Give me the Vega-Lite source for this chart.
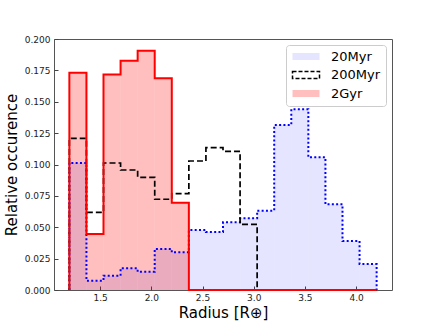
{
  "$schema": "https://vega.github.io/schema/vega-lite/v6.json",
  "width": 338,
  "height": 251,
  "autosize": "none",
  "padding": {"left": 54, "top": 39, "right": 44, "bottom": 37},
  "background": "white",
  "config": {
    "font": "DejaVu Sans",
    "view": {"stroke": "#555555", "strokeWidth": 1},
    "axis": {
      "grid": false,
      "domain": false,
      "labelFont": "DejaVu Sans",
      "labelFontSize": 9,
      "labelColor": "#222222",
      "labelOverlap": false,
      "tickColor": "#444444",
      "tickSize": -4,
      "tickCount": 30,
      "titleFont": "DejaVu Sans",
      "titleFontSize": 15,
      "titleFontWeight": "normal",
      "titleColor": "black"
    }
  },
  "data": {
    "values": [
      {"s": "20Myr", "k": -1, "x": 1.2, "x2": 1.2, "y": 0},
      {"s": "20Myr", "k": 0, "x": 1.2, "x2": 1.3667, "y": 0.1012},
      {"s": "20Myr", "k": 1, "x": 1.3667, "x2": 1.5333, "y": 0.0074},
      {"s": "20Myr", "k": 2, "x": 1.5333, "x2": 1.7, "y": 0.0114},
      {"s": "20Myr", "k": 3, "x": 1.7, "x2": 1.8667, "y": 0.0173},
      {"s": "20Myr", "k": 4, "x": 1.8667, "x2": 2.0333, "y": 0.0146},
      {"s": "20Myr", "k": 5, "x": 2.0333, "x2": 2.2, "y": 0.0327},
      {"s": "20Myr", "k": 6, "x": 2.2, "x2": 2.3667, "y": 0.0300},
      {"s": "20Myr", "k": 7, "x": 2.3667, "x2": 2.5333, "y": 0.0478},
      {"s": "20Myr", "k": 8, "x": 2.5333, "x2": 2.7, "y": 0.0462},
      {"s": "20Myr", "k": 9, "x": 2.7, "x2": 2.8667, "y": 0.0539},
      {"s": "20Myr", "k": 10, "x": 2.8667, "x2": 3.0333, "y": 0.0571},
      {"s": "20Myr", "k": 11, "x": 3.0333, "x2": 3.2, "y": 0.0632},
      {"s": "20Myr", "k": 12, "x": 3.2, "x2": 3.3667, "y": 0.1315},
      {"s": "20Myr", "k": 13, "x": 3.3667, "x2": 3.5333, "y": 0.1440},
      {"s": "20Myr", "k": 14, "x": 3.5333, "x2": 3.7, "y": 0.1057},
      {"s": "20Myr", "k": 15, "x": 3.7, "x2": 3.8667, "y": 0.0683},
      {"s": "20Myr", "k": 16, "x": 3.8667, "x2": 4.0333, "y": 0.0390},
      {"s": "20Myr", "k": 17, "x": 4.0333, "x2": 4.2, "y": 0.0207},
      {"s": "20Myr", "k": 18, "x": 4.2, "x2": 4.2, "y": 0},
      {"s": "200Myr", "k": -1, "x": 1.2, "x2": 1.2, "y": 0},
      {"s": "200Myr", "k": 0, "x": 1.2, "x2": 1.3667, "y": 0.1208},
      {"s": "200Myr", "k": 1, "x": 1.3667, "x2": 1.5333, "y": 0.0619},
      {"s": "200Myr", "k": 2, "x": 1.5333, "x2": 1.7, "y": 0.1012},
      {"s": "200Myr", "k": 3, "x": 1.7, "x2": 1.8667, "y": 0.0956},
      {"s": "200Myr", "k": 4, "x": 1.8667, "x2": 2.0333, "y": 0.0898},
      {"s": "200Myr", "k": 5, "x": 2.0333, "x2": 2.2, "y": 0.0723},
      {"s": "200Myr", "k": 6, "x": 2.2, "x2": 2.3667, "y": 0.0768},
      {"s": "200Myr", "k": 7, "x": 2.3667, "x2": 2.5333, "y": 0.1028},
      {"s": "200Myr", "k": 8, "x": 2.5333, "x2": 2.7, "y": 0.1134},
      {"s": "200Myr", "k": 9, "x": 2.7, "x2": 2.8667, "y": 0.1105},
      {"s": "200Myr", "k": 10, "x": 2.8667, "x2": 3.0333, "y": 0.0523},
      {"s": "200Myr", "k": 11, "x": 3.0333, "x2": 3.2, "y": 0},
      {"s": "200Myr", "k": 12, "x": 3.2, "x2": 3.3667, "y": 0},
      {"s": "200Myr", "k": 13, "x": 3.3667, "x2": 3.5333, "y": 0},
      {"s": "200Myr", "k": 14, "x": 3.5333, "x2": 3.7, "y": 0},
      {"s": "200Myr", "k": 15, "x": 3.7, "x2": 3.8667, "y": 0},
      {"s": "200Myr", "k": 16, "x": 3.8667, "x2": 4.0333, "y": 0},
      {"s": "200Myr", "k": 17, "x": 4.0333, "x2": 4.2, "y": 0},
      {"s": "200Myr", "k": 18, "x": 4.2, "x2": 4.2, "y": 0},
      {"s": "2Gyr", "k": -1, "x": 1.2, "x2": 1.2, "y": 0},
      {"s": "2Gyr", "k": 0, "x": 1.2, "x2": 1.3667, "y": 0.1732},
      {"s": "2Gyr", "k": 1, "x": 1.3667, "x2": 1.5333, "y": 0.0446},
      {"s": "2Gyr", "k": 2, "x": 1.5333, "x2": 1.7, "y": 0.1718},
      {"s": "2Gyr", "k": 3, "x": 1.7, "x2": 1.8667, "y": 0.1827},
      {"s": "2Gyr", "k": 4, "x": 1.8667, "x2": 2.0333, "y": 0.1907},
      {"s": "2Gyr", "k": 5, "x": 2.0333, "x2": 2.2, "y": 0.1687},
      {"s": "2Gyr", "k": 6, "x": 2.2, "x2": 2.3667, "y": 0.0696},
      {"s": "2Gyr", "k": 7, "x": 2.3667, "x2": 2.5333, "y": 0},
      {"s": "2Gyr", "k": 8, "x": 2.5333, "x2": 2.7, "y": 0},
      {"s": "2Gyr", "k": 9, "x": 2.7, "x2": 2.8667, "y": 0},
      {"s": "2Gyr", "k": 10, "x": 2.8667, "x2": 3.0333, "y": 0},
      {"s": "2Gyr", "k": 11, "x": 3.0333, "x2": 3.2, "y": 0},
      {"s": "2Gyr", "k": 12, "x": 3.2, "x2": 3.3667, "y": 0},
      {"s": "2Gyr", "k": 13, "x": 3.3667, "x2": 3.5333, "y": 0},
      {"s": "2Gyr", "k": 14, "x": 3.5333, "x2": 3.7, "y": 0},
      {"s": "2Gyr", "k": 15, "x": 3.7, "x2": 3.8667, "y": 0},
      {"s": "2Gyr", "k": 16, "x": 3.8667, "x2": 4.0333, "y": 0},
      {"s": "2Gyr", "k": 17, "x": 4.0333, "x2": 4.2, "y": 0},
      {"s": "2Gyr", "k": 18, "x": 4.2, "x2": 4.2, "y": 0}
    ]
  },
  "layer": [
    {
      "transform": [{"filter": "datum.k >= 0 && datum.k <= 17"}],
      "mark": {"type": "rect", "strokeWidth": 0},
      "encoding": {
        "x": {
          "field": "x", "type": "quantitative",
          "scale": {"domain": [1.05, 4.35], "nice": false, "zero": false},
          "axis": {"title": "Radius [R⊕]", "values": [1.5, 2, 2.5, 3, 3.5, 4], "format": ".1f", "labelPadding": 7, "titlePadding": 3, "labelOverlap": false, "tickCount": 30}
        },
        "x2": {"field": "x2"},
        "y": {
          "field": "y", "type": "quantitative", "stack": null,
          "scale": {"domain": [0, 0.2], "nice": false},
          "axis": {"title": "Relative occurence", "values": [0, 0.025, 0.05, 0.075, 0.1, 0.125, 0.15, 0.175, 0.2], "format": ".3f", "labelPadding": 8, "titlePadding": 5, "labelOverlap": false, "tickCount": 30}
        },
        "y2": {"datum": 0},
        "color": {
          "field": "s", "type": "nominal",
          "scale": {"domain": ["20Myr", "200Myr", "2Gyr"], "range": ["rgba(0,0,255,0.1)", "rgba(0,0,0,0)", "rgba(255,0,0,0.25)"]},
          "legend": {
            "title": null,
            "orient": "top-right",
            "offset": 6,
            "fillColor": "rgba(255,255,255,0.85)",
            "strokeColor": "#cccccc",
            "cornerRadius": 3,
            "padding": 5,
            "labelFont": "DejaVu Sans",
            "labelFontSize": 13,
            "labelColor": "black",
            "symbolType": "M-1,-0.7H4.4V0.7H-1Z",
            "symbolSize": 100,
            "symbolStrokeWidth": 0,
            "labelOffset": 27,
            "rowPadding": 4.5,
            "encode": {
              "entries": {
                "update": {
                  "width": {"value": 88},
                  "height": {"value": 13},
                  "fill": {"value": "transparent"}
                }
              },
              "symbols": {
                "update": {
                  "stroke": {"signal": "datum.value === '200Myr' ? 'black' : 'transparent'"},
                  "strokeWidth": {"signal": "datum.value === '200Myr' ? 1.5 : 0"},
                  "strokeDash": {"signal": "datum.value === '200Myr' ? [4, 2] : []"}
                }
              }
            }
          }
        }
      }
    },
    {
      "transform": [{"filter": "datum.s === '20Myr'"}],
      "mark": {"type": "line", "interpolate": "step-after", "color": "#0000ff", "strokeWidth": 2, "strokeDash": [2, 2.3]},
      "encoding": {
        "x": {"field": "x", "type": "quantitative"},
        "y": {"field": "y", "type": "quantitative"},
        "order": {"field": "k", "type": "quantitative"}
      }
    },
    {
      "transform": [{"filter": "datum.s === '200Myr'"}],
      "mark": {"type": "line", "interpolate": "step-after", "color": "black", "strokeWidth": 1.7, "strokeDash": [6, 3]},
      "encoding": {
        "x": {"field": "x", "type": "quantitative"},
        "y": {"field": "y", "type": "quantitative"},
        "order": {"field": "k", "type": "quantitative"}
      }
    },
    {
      "transform": [{"filter": "datum.s === '2Gyr'"}],
      "mark": {"type": "line", "interpolate": "step-after", "color": "#ff0000", "strokeWidth": 2},
      "encoding": {
        "x": {"field": "x", "type": "quantitative"},
        "y": {"field": "y", "type": "quantitative"},
        "order": {"field": "k", "type": "quantitative"}
      }
    }
  ]
}
